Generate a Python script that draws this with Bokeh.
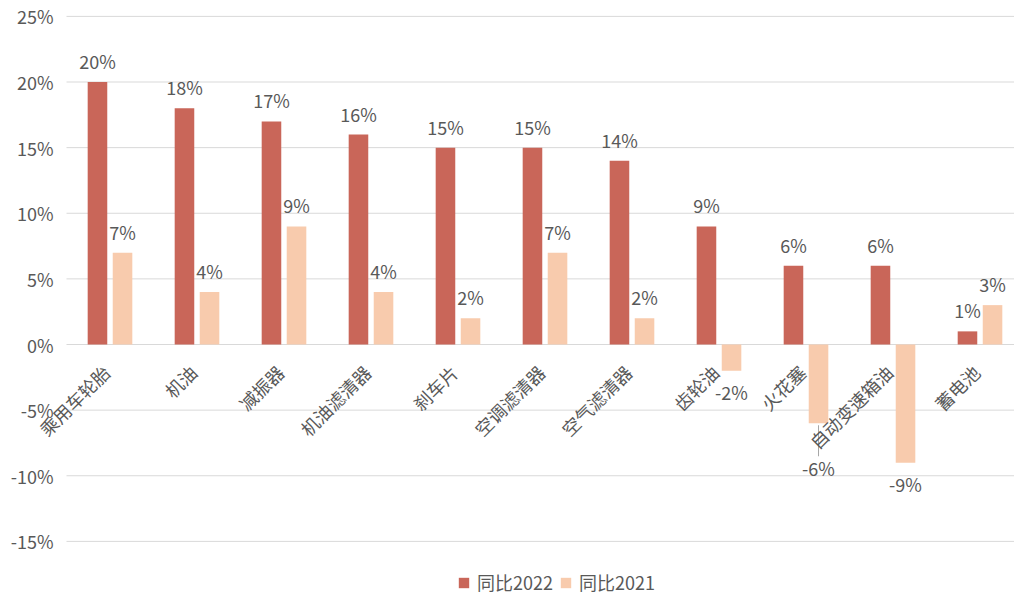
import math
from bokeh.plotting import figure
from bokeh.models import ColumnDataSource, Range1d, Legend, LegendItem
from bokeh.core.properties import value
from bokeh.embed import file_html
from bokeh.resources import INLINE

categories = ["乘用车轮胎", "机油", "减振器", "机油滤清器", "刹车片", "空调滤清器",
              "空气滤清器", "齿轮油", "火花塞", "自动变速箱油", "蓄电池"]
yoy_2022 = [20, 18, 17, 16, 15, 15, 14, 9, 6, 6, 1]
yoy_2021 = [7, 4, 9, 4, 2, 7, 2, -2, -6, -9, 3]
y_ticks = [-15, -10, -5, 0, 5, 10, 15, 20, 25]
series_names = ["同比2022", "同比2021"]

RED = "#C96659"
PEACH = "#F8CBAD"
TXT = "#595959"
GRID = "#D9D9D9"
FONT = "Noto Sans CJK SC"
FS = "18px"

W, H = 1014, 598
# plot-area geometry (pixels): left edge, category pitch, zero line, pixels per 1%
LEFT, PITCH, ZERO_Y, PPU = 66, 87.0, 344, 13.125

n = len(categories)
xc = [i + 0.5 for i in range(n)]
bw = 0.225
off = 0.144

x_start = -LEFT / PITCH
x_end = (W - LEFT) / PITCH
y_end = ZERO_Y / PPU
y_start = -(H - ZERO_Y) / PPU

p = figure(width=W, height=H, output_backend="svg", toolbar_location=None,
           x_range=Range1d(x_start, x_end), y_range=Range1d(y_start, y_end),
           min_border=0, min_border_left=0, min_border_right=0,
           min_border_top=0, min_border_bottom=0)
p.outline_line_color = None
p.background_fill_color = "white"
p.border_fill_color = "white"
p.axis.visible = False
p.grid.visible = False

# horizontal gridlines across the plot area
p.segment(x0=[0] * len(y_ticks), x1=[x_end] * len(y_ticks), y0=y_ticks, y1=y_ticks,
          line_color=GRID, line_width=1)
# y tick labels
p.text(x=[0] * len(y_ticks), y=y_ticks, text=[f"{t}%" for t in y_ticks],
       x_offset=-13, text_align="right", text_baseline="middle",
       text_font=value(FONT), text_font_size=FS, text_color=TXT)

x22 = [x - off for x in xc]
x21 = [x + off for x in xc]
src22 = ColumnDataSource(dict(x=x22, top=yoy_2022, lab=[f"{v}%" for v in yoy_2022],
                              yo=[-21 if v >= 0 else 21 for v in yoy_2022]))
# the -6% label of 火花塞 is pushed down with a leader line in the reference
extra = [0] * n
extra[8] = 24
src21 = ColumnDataSource(dict(x=x21, top=yoy_2021, lab=[f"{v}%" for v in yoy_2021],
                              yo=[(-21 if v >= 0 else 21 + e) for v, e in zip(yoy_2021, extra)]))

r22 = p.vbar(x="x", top="top", bottom=0, width=bw, source=src22, fill_color=RED, line_color=None)
r21 = p.vbar(x="x", top="top", bottom=0, width=bw, source=src21, fill_color=PEACH, line_color=None)

# leader line for displaced label
lx = [x21[i] for i in range(n) if extra[i]]
ly0 = [yoy_2021[i] - 2 / PPU for i in range(n) if extra[i]]
ly1 = [yoy_2021[i] - (extra[i] + 9) / PPU for i in range(n) if extra[i]]
p.segment(x0=lx, y0=ly0, x1=lx, y1=ly1, line_color="#A6A6A6", line_width=1)

for src in (src22, src21):
    p.text(x="x", y="top", text="lab", source=src, y_offset="yo",
           text_align="center", text_baseline="middle",
           text_font=value(FONT), text_font_size=FS, text_color=TXT)

p.text(x=xc, y=[0] * n, text=categories, angle=math.pi / 4,
       text_align="right", text_baseline="middle", x_offset=-4, y_offset=24,
       text_font=value(FONT), text_font_size=FS, text_color=TXT)

legend = Legend(items=[LegendItem(label=series_names[0], renderers=[r22]),
                       LegendItem(label=series_names[1], renderers=[r21])],
                location=(457, 3), orientation="horizontal",
                border_line_color=None, background_fill_alpha=0,
                padding=0, margin=0, spacing=6,
                glyph_width=13, glyph_height=13, label_standoff=7,
                label_text_font=FONT, label_text_font_size=FS, label_text_color=TXT)
p.add_layout(legend, "center")

open("out.html", "w").write(file_html(p, INLINE))
